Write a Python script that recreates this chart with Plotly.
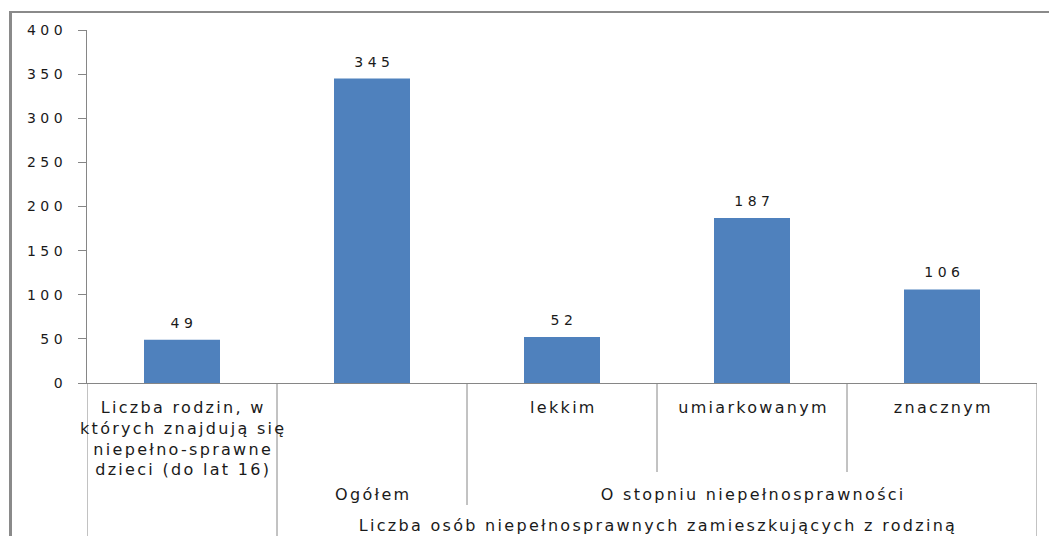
import plotly.graph_objects as go

# ---- data ----
level1_labels = [
    "Liczba rodzin, w<br>których znajdują się<br>niepełno-sprawne<br>dzieci (do lat 16)",
    "",
    "lekkim",
    "umiarkowanym",
    "znacznym",
]
values = [49, 345, 52, 187, 106]
level2_groups = [("Ogółem", 1, 1), ("O stopniu niepełnosprawności", 2, 4)]
level3_groups = [("Liczba osób niepełnosprawnych zamieszkujących z rodziną", 1, 4)]
y_ticks = [0, 50, 100, 150, 200, 250, 300, 350, 400]

# ---- layout constants ----
W, H = 1049, 536
ML, MR, MT, MB = 87, 12, 30, 153
plot_h = H - MT - MB
plot_w = W - ML - MR


def py(pix):
    """pixel row -> paper y"""
    return (H - MB - pix) / plot_h


def px(pix):
    return (pix - ML) / plot_w


FONT = "DejaVu Sans"
GRAY = "#868686"
TXT = "#1a1a1a"
x = list(range(len(values)))

fig = go.Figure()
fig.add_trace(go.Bar(
    x=x, y=values, width=0.4,
    marker=dict(color="#4F81BD", line=dict(width=0)),
    hoverinfo="skip",
))

shapes = []
annotations = []

# value labels above bars
for xi, v in zip(x, values):
    annotations.append(dict(x=xi, y=v, xref="x", yref="y", text=str(v), showarrow=False,
                            yanchor="middle", yshift=17, xshift=2,
                            font=dict(family=FONT, size=14, color=TXT)))

# separators below axis
sep_bottom = {-0.5: 540, 0.5: 540, 1.5: 505, 2.5: 472, 3.5: 472, 4.5: 540}
for xv, bottom in sep_bottom.items():
    shapes.append(dict(type="line", xref="x", yref="paper", x0=xv, x1=xv,
                       y0=0, y1=py(bottom), line=dict(color=GRAY, width=1)))

# level 1 labels
for i, lab in enumerate(level1_labels):
    if lab:
        annotations.append(dict(x=i, y=py(396), xref="x", yref="paper", text=lab,
                                showarrow=False, yanchor="top", xanchor="center", xshift=1,
                                font=dict(family=FONT, size=16, color=TXT)))
# level 2
for lab, a, b in level2_groups:
    annotations.append(dict(x=(a + b) / 2, y=py(494), xref="x", yref="paper", text=lab,
                            showarrow=False, yanchor="middle", xshift=1,
                            font=dict(family=FONT, size=16, color=TXT)))
# level 3
for lab, a, b in level3_groups:
    annotations.append(dict(x=(a + b) / 2, y=py(525), xref="x", yref="paper", text=lab,
                            showarrow=False, yanchor="middle", xshift=1,
                            font=dict(family=FONT, size=16, color=TXT)))

# outer chart frame (left and top)
shapes.append(dict(type="line", xref="paper", yref="paper", x0=px(10.5), x1=px(10.5),
                   y0=py(12), y1=py(540), line=dict(color="#8a8a8a", width=3)))
shapes.append(dict(type="line", xref="paper", yref="paper", x0=px(9), x1=px(1052),
                   y0=py(12), y1=py(12), line=dict(color="#8a8a8a", width=2)))

fig.update_layout(
    width=W, height=H,
    margin=dict(l=ML, r=MR, t=MT, b=MB),
    paper_bgcolor="white", plot_bgcolor="white",
    showlegend=False,
    shapes=shapes, annotations=annotations,
    xaxis=dict(range=[-0.5, 4.5], showticklabels=False, ticks="", showgrid=False,
               zeroline=False, showline=True, linecolor=GRAY, linewidth=1, fixedrange=True),
    yaxis=dict(range=[0, 400], tickvals=y_ticks, ticks="outside", ticklen=8,
               tickcolor=GRAY, showline=True, linecolor=GRAY, linewidth=1,
               showgrid=False, zeroline=False, ticklabelstandoff=8, fixedrange=True,
               tickfont=dict(family=FONT, size=14, color=TXT)),
)

post = """
document.body.style.margin = '0';
var gd = document.getElementById('{plot_id}');
function spaceText() {
  gd.querySelectorAll('.annotation-text').forEach(function (t) {
    t.style.letterSpacing = /^\\d+$/.test(t.textContent.trim()) ? '4.5px' : '2.3px';
  });
  gd.querySelectorAll('.ytick text').forEach(function (t) {
    t.style.letterSpacing = '4.5px';
  });
}
spaceText();
gd.on('plotly_afterplot', spaceText);
"""

fig.write_html("out.html", post_script=post, config={"displayModeBar": False})
